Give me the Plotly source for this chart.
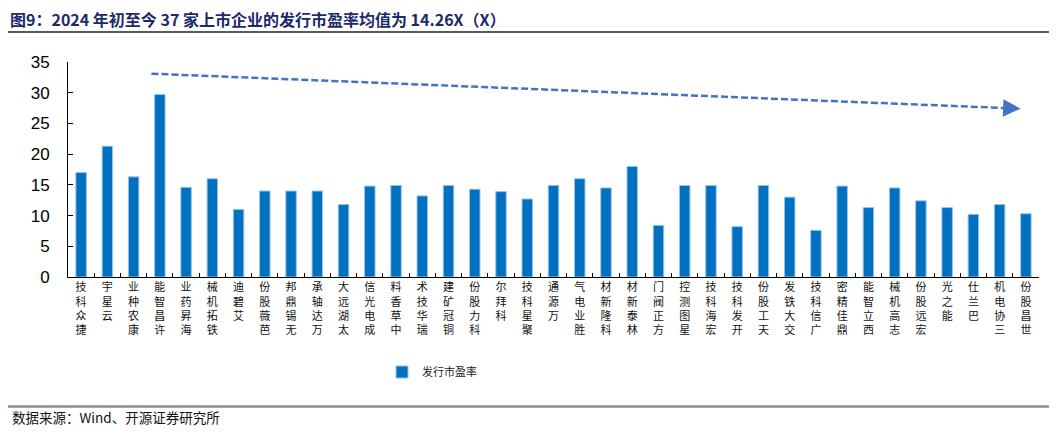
import plotly.graph_objects as go

# page is rendered with an 8px body margin, so the figure is offset by 8px
OFF = 8
W, H = 1057 - 2 * OFF, 436 - 2 * OFF
ML, MR, MT, MB = 68 - OFF, 10, 62 - OFF, 151

companies = ["捷众科技", "云星宇", "康农种业", "许昌智能", "海昇药业", "铁拓机械", "艾碧迪",
             "芭薇股份", "无锡鼎邦", "万达轴承", "太湖远大", "成电光信", "中草香料", "瑞华技术",
             "铜冠矿建", "科力股份", "科拜尔", "聚星科技", "万源通", "胜业电气", "科隆新材",
             "林泰新材", "方正阀门", "星图测控", "宏海科技", "开发科技", "天工股份", "交大铁发",
             "广信科技", "鼎佳精密", "西立智能", "志高机械", "宏远股份", "能之光", "巴兰仕",
             "三协电机", "世昌股份"]
pe_values = [17.0, 21.3, 16.3, 29.7, 14.6, 16.0, 11.0,
             14.0, 14.0, 14.0, 11.8, 14.8, 14.9, 13.2,
             14.9, 14.3, 13.9, 12.7, 14.9, 16.0, 14.5,
             18.0, 8.4, 14.9, 14.9, 8.2, 14.9, 13.0,
             7.6, 14.8, 11.3, 14.5, 12.4, 11.3, 10.2,
             11.8, 10.3]
series_name = "发行市盈率"
y_ticks = [0, 5, 10, 15, 20, 25, 30, 35]
# trend arrow (category index, value)
trend_start = (2.68, 33.1)
trend_end = (35.8, 27.4)

title_text = "图9：2024 年初至今 37 家上市企业的发行市盈率均值为 14.26X（X）"
source_text = "数据来源：Wind、开源证券研究所"

# upright characters stacked vertically, read from bottom to top
tick_text = ["<br>".join(reversed(c)) for c in companies]

pw = W - ML - MR
ph = H - MT - MB


def px_x(p):
    # p: page pixel
    return (p - OFF - ML) / pw


def px_y(p):
    return (H - MB - (p - OFF)) / ph


fig = go.Figure()
fig.add_trace(go.Bar(
    x=companies, y=pe_values, name=series_name,
    marker=dict(color="#0070C0", line=dict(color="#9DC3E6", width=1)),
    showlegend=True,
))

fig.update_layout(
    width=W, height=H,
    margin=dict(l=ML, r=MR, t=MT, b=MB, autoexpand=False),
    paper_bgcolor="white", plot_bgcolor="white",
    bargap=0.6,
    font=dict(family="Noto Sans CJK SC", color="#000000"),
    title=dict(text="<b>" + title_text + "</b>", xref="container", yref="container",
               x=2 / W, xanchor="left", y=1 - (20.5 - OFF) / H, yanchor="middle",
               font=dict(family="Noto Sans CJK SC", size=16, color="#1B2A6B")),
    legend=dict(xref="container", yref="container", x=(382 - OFF) / W, xanchor="left",
                y=1 - (372 - OFF) / H, yanchor="middle", orientation="h",
                font=dict(size=11, color="#222222"), bgcolor="rgba(0,0,0,0)"),
    xaxis=dict(type="category", tickmode="array", tickvals=companies, ticktext=tick_text,
               tickangle=0, tickson="boundaries", ticks="inside", ticklen=4,
               tickcolor="#000000", showline=True, linecolor="#000000", linewidth=1,
               showgrid=False, range=[-0.5, len(companies) - 0.5], automargin=False,
               tickfont=dict(size=11, family="Noto Sans CJK SC", color="#111111")),
    yaxis=dict(range=[0, 35], tickvals=y_ticks, ticks="inside", ticklen=5,
               tickcolor="#000000", showline=True, linecolor="#000000", linewidth=1,
               showgrid=False, zeroline=False, ticklabelstandoff=14, automargin=False,
               tickfont=dict(size=17, family="Liberation Sans", color="#000000")),
)

# dashed trend arrow
slope = (trend_start[1] - trend_end[1]) / (trend_end[0] - trend_start[0])
fig.add_shape(type="line", xref="x", yref="y",
              x0=trend_start[0], y0=trend_start[1],
              x1=trend_end[0] - 0.45, y1=trend_end[1] + slope * 0.45,
              line=dict(color="#4472C4", width=2.5, dash="7px,3px"))
fig.add_annotation(xref="x", yref="y", axref="x", ayref="y",
                   x=trend_end[0], y=trend_end[1],
                   ax=trend_end[0] - 0.5, ay=trend_end[1] + slope * 0.5,
                   text="", showarrow=True, arrowhead=2, arrowsize=1.4, arrowwidth=2.5,
                   arrowcolor="#4472C4")

# header rule and footer rule
fig.add_shape(type="line", xref="paper", yref="paper",
              x0=px_x(OFF), x1=px_x(1057 - OFF), y0=px_y(32), y1=px_y(32),
              line=dict(color="#222222", width=1.5))
fig.add_shape(type="line", xref="paper", yref="paper",
              x0=px_x(OFF), x1=px_x(1057 - OFF), y0=px_y(406.5), y1=px_y(406.5),
              line=dict(color="#8C8C8C", width=2.5))

fig.add_annotation(xref="paper", yref="paper", x=px_x(OFF + 2), y=px_y(417),
                   xanchor="left", yanchor="middle", showarrow=False,
                   text=source_text, font=dict(size=13.5, color="#111111"))

fig.write_html("out.html")
